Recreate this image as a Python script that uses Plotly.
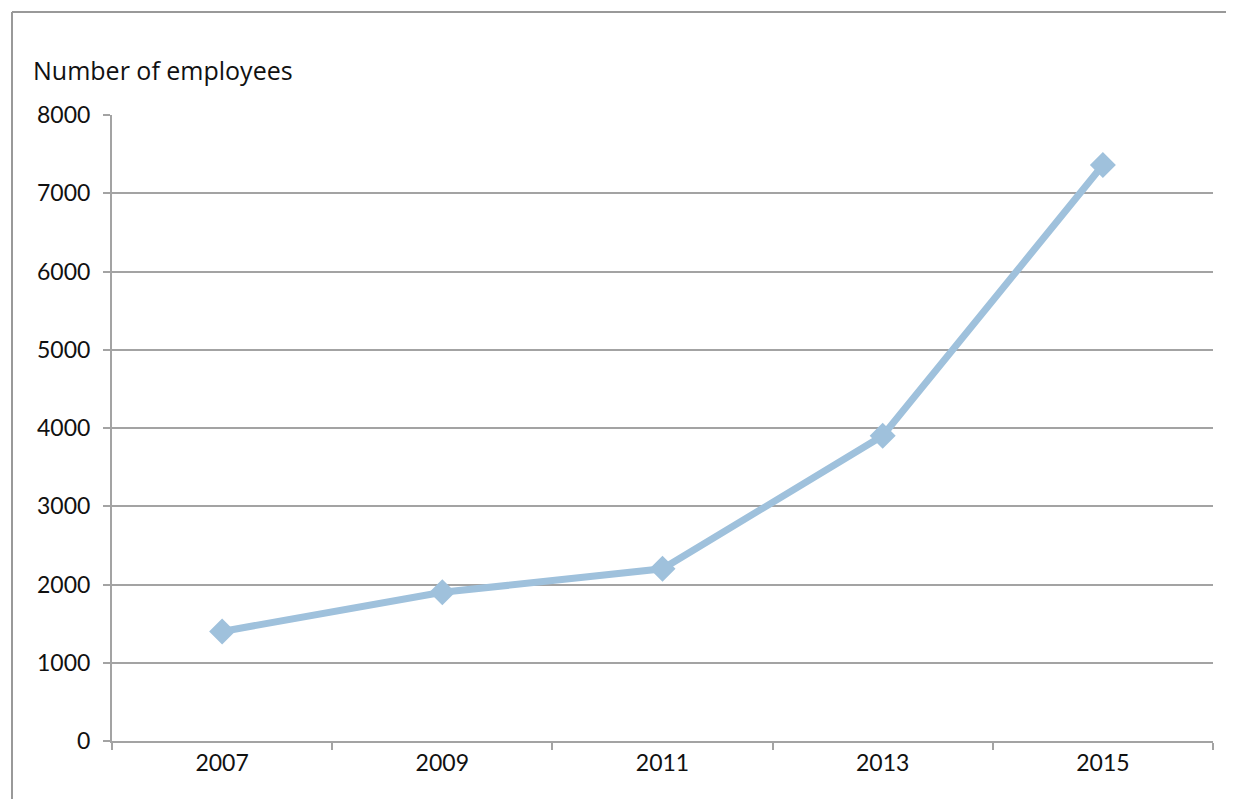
import plotly.graph_objects as go

years = ["2007", "2009", "2011", "2013", "2015"]
employees = [1400, 1900, 2200, 3900, 7360]
y_ticks = [0, 1000, 2000, 3000, 4000, 5000, 6000, 7000, 8000]

OFF = 8  # page body margin
W, H = 1234 - OFF, 799 - OFF
L, T = 112 - OFF, 115 - OFF
R = W - (1213 - OFF)
B = H - (741 - OFF)
pw, ph = W - L - R, H - T - B

def px_x(x):
    return (x - OFF - L) / pw

def px_y(y):
    return 1 - (y - OFF - T) / ph

grid_col = "#a3a3a3"

fig = go.Figure()
fig.add_trace(go.Scatter(
    x=years, y=employees, mode="lines+markers",
    line=dict(color="#9fc1dc", width=7),
    marker=dict(symbol="diamond", size=20, color="#9fc1dc"),
    showlegend=False,
))

fig.update_layout(
    width=W, height=H,
    margin=dict(l=L, r=R, t=T, b=B),
    paper_bgcolor="white", plot_bgcolor="white",
    font=dict(family="Lato, Open Sans, sans-serif", size=23, color="#111"),
    xaxis=dict(
        type="category", range=[-0.5, 4.5],
        tickson="boundaries", ticks="outside", ticklen=7, tickwidth=2,
        tickcolor=grid_col, showgrid=False,
        showline=True, linecolor=grid_col, linewidth=2,
        tickfont=dict(size=23, family="Lato, sans-serif"),
        zeroline=False,
    ),
    yaxis=dict(
        range=[0, 8000], tickvals=y_ticks,
        ticks="outside", ticklen=7, tickwidth=2, tickcolor=grid_col,
        showgrid=True, gridcolor=grid_col, gridwidth=2,
        showline=True, linecolor=grid_col, linewidth=2,
        zeroline=False,
        tickfont=dict(size=23, family="Lato, sans-serif"),
        ticklabelstandoff=8,
    ),
    annotations=[dict(
        text="Number of employees", xref="paper", yref="paper",
        x=px_x(31), y=px_y(70), xanchor="left", yanchor="middle",
        showarrow=False,
        font=dict(size=25, family="Open Sans, sans-serif", color="#111"),
    )],
    shapes=[
        dict(type="line", xref="paper", yref="paper",
             x0=px_x(12), x1=px_x(1240), y0=px_y(12), y1=px_y(12),
             line=dict(color="#999999", width=2)),
        dict(type="line", xref="paper", yref="paper",
             x0=px_x(12), x1=px_x(12), y0=px_y(12), y1=px_y(810),
             line=dict(color="#999999", width=2)),
    ],
)

fig.write_html("out.html")
